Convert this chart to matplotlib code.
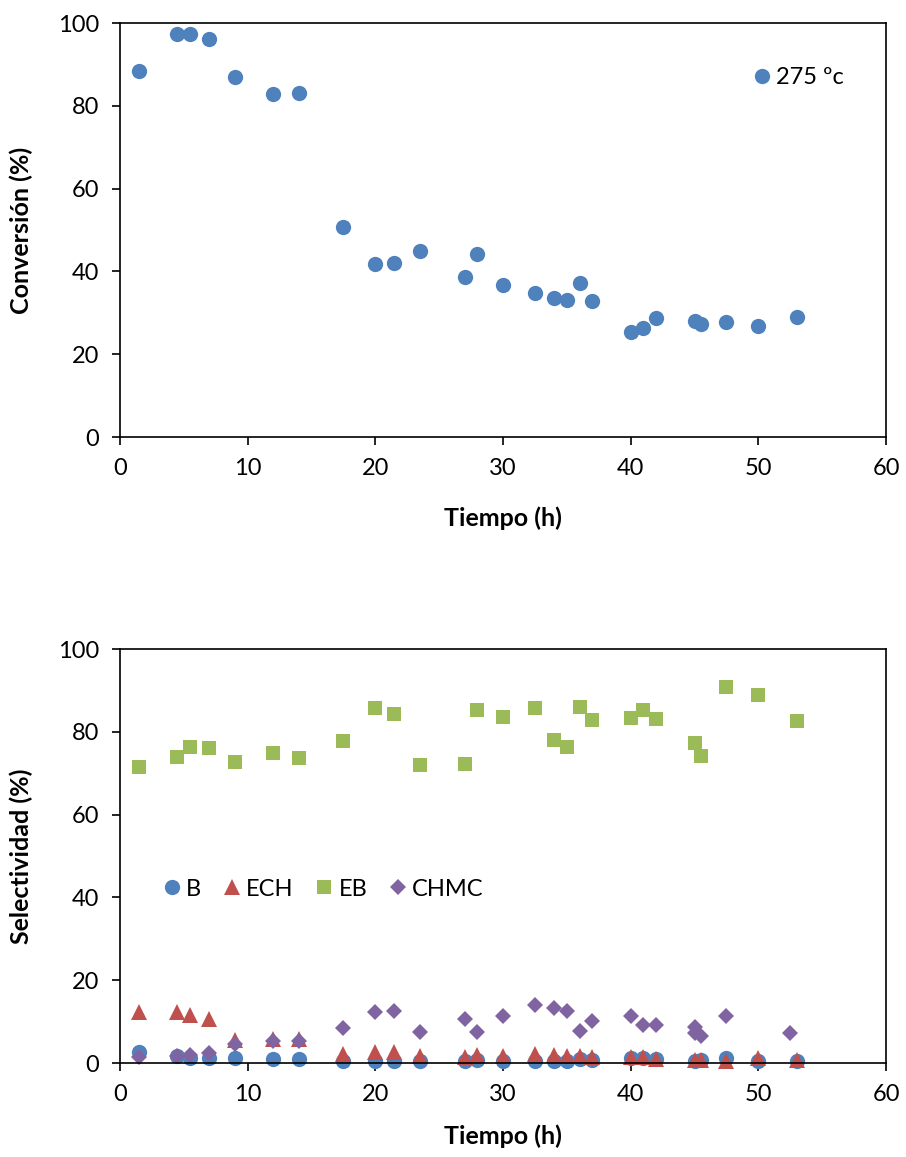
import matplotlib
matplotlib.use("Agg")
import matplotlib.pyplot as plt

plt.rcParams['font.family'] = ['Lato', 'DejaVu Sans']

# Top chart: conversion
t_conv = [1.5, 4.5, 5.5, 7, 9, 12, 14, 17.5, 20, 21.5, 23.5, 27, 28, 30, 32.5, 34, 35, 36, 37, 40, 41, 42, 45, 45.5, 47.5, 50, 53]
conv = [88.3, 97.3, 97.3, 96.1, 86.9, 82.8, 83.0, 50.8, 41.9, 42.1, 45.0, 38.7, 44.1, 36.7, 34.8, 33.6, 33.0, 37.3, 32.8, 25.4, 26.4, 28.8, 28.1, 27.2, 27.8, 26.9, 28.9]

# Bottom chart: selectivity
t_sel = [1.5, 4.5, 5.5, 7, 9, 12, 14, 17.5, 20, 21.5, 23.5, 27, 28, 30, 32.5, 34, 35, 36, 37, 40, 41, 42, 45, 45.5, 47.5, 50, 53]
sel_B = [2.6, 1.6, 1.3, 1.3, 1.1, 1.0, 1.0, 0.5, 0.6, 0.6, 0.6, 0.5, 0.8, 0.4, 0.6, 0.5, 0.5, 1.0, 0.8, 1.2, 1.3, 0.9, 0.6, 0.8, 1.3, 0.6, 0.4]
sel_ECH = [12.2, 12.3, 11.6, 10.6, 5.5, 5.8, 5.7, 2.2, 2.7, 2.6, 1.8, 1.5, 2.0, 1.8, 2.2, 2.0, 1.8, 1.6, 1.5, 1.5, 1.5, 1.0, 0.7, 0.8, 0.6, 1.3, 0.8]
sel_EB = [71.4, 73.9, 76.3, 76.1, 72.8, 75.0, 73.6, 77.8, 85.8, 84.3, 72.1, 72.2, 85.3, 83.6, 85.8, 78.0, 76.3, 86.1, 82.8, 83.3, 85.3, 83.0, 77.3, 74.1, 90.9, 88.8, 82.5]
t_chmc = [1.5, 4.5, 5.5, 7, 9, 12, 14, 17.5, 20, 21.5, 23.5, 27, 28, 30, 32.5, 34, 35, 36, 37, 40, 41, 42, 45, 45, 45.5, 47.5, 52.5]
sel_CHMC = [1.5, 1.6, 2.0, 2.3, 4.5, 5.3, 5.2, 8.4, 12.2, 12.6, 7.6, 10.7, 7.6, 11.4, 14.0, 13.3, 12.6, 7.7, 10.1, 11.3, 9.2, 9.1, 8.8, 7.3, 6.5, 11.4, 7.2]

xticks = [0, 10, 20, 30, 40, 50, 60]
yticks = [0, 20, 40, 60, 80, 100]

BLUE = '#4F81BD'
RED = '#C0504D'
GREEN = '#9BBB59'
PURPLE = '#8064A2'

fig = plt.figure(figsize=(9.06, 11.57), dpi=100)
ax1 = fig.add_axes([120/906, 720/1157, 766/906, 414/1157])
ax2 = fig.add_axes([120/906, 94/1157, 766/906, 414/1157])

FS = 17
LFS = 18

def style(ax, ylabel, xpad):
    ax.set_xlim(0, 60)
    ax.set_ylim(0, 100)
    ax.set_xticks(xticks)
    ax.set_yticks(yticks)
    ax.tick_params(direction='out', length=6, width=1.2, labelsize=FS, pad=9,
                   top=False, right=False)
    for s in ax.spines.values():
        s.set_linewidth(1.2)
        s.set_color('black')
    ax.set_xlabel('Tiempo (h)', fontsize=LFS, fontweight='bold', labelpad=xpad)
    ax.set_ylabel(ylabel, fontsize=LFS, fontweight='bold', labelpad=18)

ax1.plot(t_conv, conv, 'o', color=BLUE, markersize=11, markeredgewidth=0, clip_on=False,
         label='275 ºc')
style(ax1, 'Conversión (%)', 20)
ax1.legend(loc='center left', bbox_to_anchor=(0.81, 0.868), frameon=False, fontsize=FS,
           handletextpad=0.1, handlelength=1.0, borderaxespad=0)

ax2.plot(t_sel, sel_B, 'o', color=BLUE, markersize=11, markeredgewidth=0, clip_on=False, label='B')
ax2.plot(t_sel, sel_ECH, '^', color=RED, markersize=11, markeredgewidth=0, clip_on=False, label='ECH')
ax2.plot(t_sel, sel_EB, 's', color=GREEN, markersize=10, markeredgewidth=0, clip_on=False, label='EB')
ax2.plot(t_chmc, sel_CHMC, 'D', color=PURPLE, markersize=8.5, markeredgewidth=0, clip_on=False, label='CHMC')
style(ax2, 'Selectividad (%)', 14)
ax2.legend(loc='center left', bbox_to_anchor=(0.04, 0.42), ncol=4, frameon=False, fontsize=FS,
           handletextpad=0.1, handlelength=1.0, columnspacing=0.8, borderaxespad=0)

fig.savefig('out.png', dpi=100)
